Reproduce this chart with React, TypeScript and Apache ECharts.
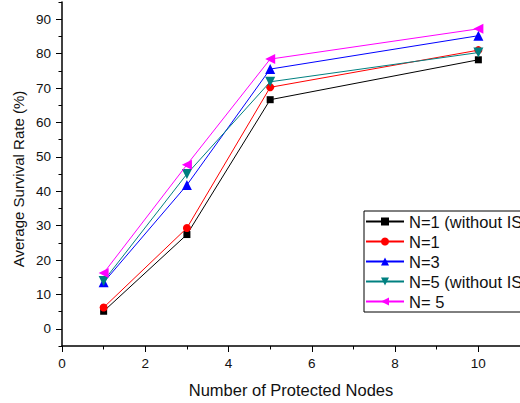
import React, { useEffect, useRef } from "react";
import * as echarts from "echarts";

const xValues = [1, 3, 5, 10];
const seriesNames = ["N=1 (without IS)", "N=1", "N=3", "N=5 (without IS)", "N= 5"];
const n1WithoutIS = [5.1, 27.4, 66.6, 78.2];
const n1 = [6.2, 29.3, 70.2, 81.0];
const n3 = [13.5, 41.8, 75.5, 85.2];
const n5WithoutIS = [13.9, 45.0, 71.8, 80.3];
const n5 = [16.2, 47.7, 78.4, 87.2];
const xTickLabels = [0, 2, 4, 6, 8, 10];
const xMinorTicks = [1, 3, 5, 7, 9];
const yTickLabels = [0, 10, 20, 30, 40, 50, 60, 70, 80, 90];
const yMinorTicks = [-5, 5, 15, 25, 35, 45, 55, 65, 75, 85, 95];

const colors = ["#000000", "#ff0000", "#0000ff", "#008080", "#ff00ff"];
const symbols = ["rect", "circle", "triangle", "triangle", "triangle"];
const rotations = [0, 0, 0, 180, 90];
const sizes = [7, 8, 10, 10, 10];

const FONT = "'Liberation Sans', Arial, sans-serif";

export default function App() {
  const ref = useRef<HTMLDivElement>(null);
  useEffect(() => {
    document.body.style.margin = "0";
    if (!ref.current) return;
    const chart = echarts.init(ref.current, undefined, { renderer: "svg" });
    const allData = [n1WithoutIS, n1, n3, n5WithoutIS, n5];
    const series = allData.map((vals, i) => ({
      name: seriesNames[i],
      type: "line",
      xAxisIndex: 0,
      yAxisIndex: 0,
      data: xValues.map((x, j) => [x, vals[j]]),
      symbol: symbols[i],
      symbolSize: sizes[i],
      symbolRotate: rotations[i],
      showAllSymbol: true,
      lineStyle: { color: colors[i], width: 1 },
      itemStyle: { color: colors[i] },
      emphasis: { disabled: true },
      z: 2 + i,
    }));
    const axisBase = {
      type: "value",
      axisLine: { show: true, onZero: false, lineStyle: { color: "#000", width: 1.5 } },
      splitLine: { show: false },
    };
    chart.setOption({
      animation: false,
      backgroundColor: "#ffffff",
      textStyle: { fontFamily: FONT },
      grid: { left: 62, right: -8, top: 2, bottom: 55, containLabel: false },
      xAxis: [
        {
          ...axisBase,
          min: 0,
          max: 11,
          position: "bottom",
          name: "Number of Protected Nodes",
          nameLocation: "middle",
          nameGap: 35,
          nameTextStyle: { fontSize: 16.5, color: "#111", fontFamily: FONT },
          axisTick: { show: true, inside: false, length: 6, customValues: xTickLabels, lineStyle: { color: "#000", width: 1 } },
          axisLabel: { show: true, margin: 10, fontSize: 13.5, color: "#111", fontFamily: FONT, customValues: xTickLabels },
        },
        {
          ...axisBase,
          min: 0,
          max: 11,
          position: "bottom",
          axisLine: { show: false, onZero: false },
          axisTick: { show: true, inside: false, length: 3.5, customValues: xMinorTicks, lineStyle: { color: "#000", width: 1 } },
          axisLabel: { show: false },
        },
      ],
      yAxis: [
        {
          ...axisBase,
          min: -5,
          max: 95,
          position: "left",
          axisTick: { show: true, inside: false, length: 6, customValues: yTickLabels, lineStyle: { color: "#000", width: 1 } },
          axisLabel: { show: true, margin: 11, fontSize: 13.5, color: "#111", fontFamily: FONT, customValues: yTickLabels },
        },
        {
          ...axisBase,
          min: -5,
          max: 95,
          position: "left",
          axisLine: { show: false, onZero: false },
          axisTick: { show: true, inside: false, length: 3.5, customValues: yMinorTicks, lineStyle: { color: "#000", width: 1 } },
          axisLabel: { show: false },
        },
      ],
      legend: {
        show: true,
        orient: "vertical",
        left: 364,
        top: 211,
        data: seriesNames,
        itemWidth: 38,
        itemHeight: 10,
        itemGap: 3,
        padding: [2, 20, 2, 1],
        borderColor: "#000",
        borderWidth: 1,
        backgroundColor: "#fff",
        selectedMode: false,
        textStyle: { fontSize: 16.5, lineHeight: 16, color: "#111", fontFamily: FONT },
      },
      graphic: [
        {
          type: "text",
          x: 18,
          y: 179,
          rotation: Math.PI / 2,
          style: {
            text: "Average Survival Rate (%)",
            font: `15px ${FONT}`,
            fill: "#111",
            align: "center",
            verticalAlign: "middle",
            textAlign: "center",
            textVerticalAlign: "middle",
          },
        },
      ],
      series,
    });
    return () => chart.dispose();
  }, []);
  return <div ref={ref} style={{ width: 520, height: 403 }} />;
}
